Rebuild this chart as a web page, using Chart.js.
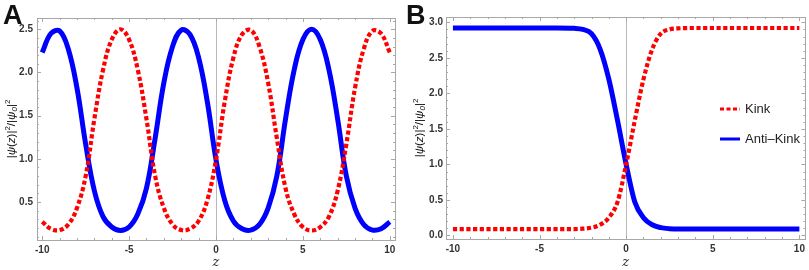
<!DOCTYPE html>
<html>
<head>
<meta charset="utf-8">
<script src="https://cdn.jsdelivr.net/npm/chart.js@4.4.1/dist/chart.umd.min.js"></script>
<style>
  body { margin: 0; background: #fff; }
  #wrap { position: relative; width: 809px; height: 270px; overflow: hidden; }
  canvas { position: absolute; top: 0; }
  #chartA { left: 0; }
  #chartB { left: 405px; }
  .tag { position: absolute; top: 2px; font: bold 27px "Liberation Sans", Arial, sans-serif; line-height: 27px; color: #111; }
</style>
</head>
<body>
<div id="wrap">
  <canvas id="chartA" width="405" height="270"></canvas>
  <canvas id="chartB" width="404" height="270"></canvas>
  <div class="tag" style="left:3px">A</div>
  <div class="tag" style="left:406px">B</div>
</div>
<script>
// パネルA: 周期解 (z = -10 .. 10, 0.5 刻み)
const zA = [-10, -9.5, -9, -8.5, -8, -7.5, -7, -6.5, -6, -5.5, -5, -4.5, -4, -3.5, -3, -2.5, -2, -1.5, -1, -0.5,
            0, 0.5, 1, 1.5, 2, 2.5, 3, 3.5, 4, 4.5, 5, 5.5, 6, 6.5, 7, 7.5, 8, 8.5, 9, 9.5, 10];
const kinkA = [0.27, 0.19, 0.175, 0.24, 0.43, 0.80, 1.46, 2.03, 2.38, 2.50, 2.38, 2.03, 1.46, 0.80, 0.43, 0.24, 0.175, 0.19, 0.28, 0.52,
               0.99, 1.66, 2.17, 2.44, 2.49, 2.30, 1.88, 1.24, 0.66, 0.36, 0.21, 0.17, 0.21, 0.33, 0.63, 1.17, 1.82, 2.27, 2.48, 2.45, 2.23];
const antiKinkA = [2.23, 2.45, 2.48, 2.27, 1.82, 1.17, 0.63, 0.33, 0.21, 0.17, 0.21, 0.36, 0.66, 1.24, 1.88, 2.30, 2.49, 2.44, 2.17, 1.66,
                   0.99, 0.52, 0.28, 0.19, 0.175, 0.24, 0.43, 0.80, 1.46, 2.03, 2.38, 2.50, 2.38, 2.03, 1.46, 0.80, 0.43, 0.24, 0.175, 0.19, 0.27];

// パネルB: キンク / 反キンク
const zB = [-10, -8, -6, -4, -3, -2.5, -2, -1.5, -1, -0.5, 0, 0.5, 1, 1.5, 2, 2.5, 3, 4, 6, 8, 10];
const kinkB = [0.09, 0.09, 0.09, 0.09, 0.09, 0.095, 0.11, 0.15, 0.25, 0.47, 1.00, 1.62, 2.20, 2.62, 2.84, 2.90, 2.915, 2.92, 2.92, 2.92, 2.92];
const antiKinkB = [2.92, 2.92, 2.92, 2.92, 2.915, 2.90, 2.84, 2.62, 2.20, 1.62, 1.00, 0.47, 0.25, 0.15, 0.11, 0.095, 0.09, 0.09, 0.09, 0.09, 0.09];

// 目盛り
const xTicks = [-10, -5, 0, 5, 10];
const yTicksA = [0.5, 1.0, 1.5, 2.0, 2.5];
const yTicksB = [0.0, 0.5, 1.0, 1.5, 2.0, 2.5, 3.0];
const seriesLabels = ['Kink', 'Anti\u2013Kink'];

const RED = '#ff0000';
const BLUE = '#0000ff';
const FRAME = '#a8a8a8';
const TICK_FONT = { family: 'Liberation Sans', size: 10, weight: 'bold' };

const toPoints = (z, v) => z.map((x, i) => ({ x, y: v[i] }));

// 縦軸タイトル |ψ(z)|²/|ψ0|² (回転して描く)
function drawYTitle(ctx, cx, cy) {
    const size = 11.5;
    const runs = [
        { t: '|' }, { t: '\u03C8', it: true }, { t: '(' }, { t: 'z', it: true }, { t: ')|' }, { t: '2', sup: true },
        { t: '/|' }, { t: '\u03C8', it: true }, { t: '0', sub: true, it: true }, { t: '|' }, { t: '2', sup: true }
    ];
    const fontOf = r => `${r.it ? 'italic ' : ''}${r.sup || r.sub ? size * 0.7 : size}px "Liberation Sans"`;
    let total = 0;
    runs.forEach(r => { ctx.font = fontOf(r); r.w = ctx.measureText(r.t).width; total += r.w; });
    ctx.save();
    ctx.translate(cx, cy);
    ctx.rotate(-Math.PI / 2);
    ctx.fillStyle = '#111';
    ctx.textBaseline = 'middle';
    let x = -total / 2;
    runs.forEach(r => {
        ctx.font = fontOf(r);
        const dy = r.sup ? -size * 0.4 : r.sub ? size * 0.25 : 0;
        ctx.fillText(r.t, x, dy);
        x += r.w;
    });
    ctx.restore();
}

// 枠・目盛り・z=0 の縦線・凡例
const framePlugin = {
    id: 'frame',
    beforeDatasetsDraw(chart) {
        const { ctx, chartArea: a, scales: { x } } = chart;
        const x0 = Math.round(x.getPixelForValue(0)) + 0.5;
        ctx.save();
        ctx.strokeStyle = '#b8b8b8';
        ctx.lineWidth = 1;
        ctx.beginPath();
        ctx.moveTo(x0, a.top);
        ctx.lineTo(x0, a.bottom);
        ctx.stroke();
        ctx.restore();
    },
    afterDatasetsDraw(chart, args, opts) {
        const { ctx, chartArea: a, scales: { x, y } } = chart;
        ctx.save();
        ctx.strokeStyle = FRAME;
        ctx.lineWidth = 1;
        ctx.strokeRect(Math.round(a.left) + 0.5, Math.round(a.top) + 0.5,
                       Math.round(a.right - a.left), Math.round(a.bottom - a.top));
        ctx.beginPath();
        for (let i = -10; i <= 10; i++) {
            const px = Math.round(x.getPixelForValue(i)) + 0.5;
            const len = i % 5 === 0 ? 4 : 2;
            ctx.moveTo(px, a.bottom); ctx.lineTo(px, a.bottom - len);
            ctx.moveTo(px, a.top); ctx.lineTo(px, a.top + len);
        }
        for (let k = Math.ceil(y.min * 10); k <= Math.floor(y.max * 10); k++) {
            const py = Math.round(y.getPixelForValue(k / 10)) + 0.5;
            const len = k % 5 === 0 ? 4 : 2;
            ctx.moveTo(a.left, py); ctx.lineTo(a.left + len, py);
            ctx.moveTo(a.right, py); ctx.lineTo(a.right - len, py);
        }
        ctx.stroke();
        ctx.restore();

        drawYTitle(ctx, opts.titleX, (a.top + a.bottom) / 2);

        if (opts.legend) {
            const items = [
                { label: seriesLabels[0], color: RED, dash: [4, 2.5], y: 109 },
                { label: seriesLabels[1], color: BLUE, dash: [], y: 139 }
            ];
            ctx.save();
            items.forEach(it => {
                ctx.strokeStyle = it.color;
                ctx.lineWidth = 3;
                ctx.setLineDash(it.dash);
                ctx.beginPath();
                ctx.moveTo(315, it.y);
                ctx.lineTo(335, it.y);
                ctx.stroke();
                ctx.setLineDash([]);
                ctx.fillStyle = '#222';
                ctx.font = '13px "Liberation Sans"';
                ctx.textBaseline = 'middle';
                ctx.fillText(it.label, 340, it.y);
            });
            ctx.restore();
        }
    }
};

function buildChart(id, p) {
    return new Chart(document.getElementById(id), {
        type: 'line',
        data: {
            datasets: [
                {
                    label: seriesLabels[0], data: toPoints(p.z, p.kink),
                    borderColor: RED, borderWidth: 4.2, borderDash: [4.2, 2.5], borderCapStyle: 'butt',
                    pointRadius: 0, tension: p.tension, cubicInterpolationMode: p.interp, fill: false
                },
                {
                    label: seriesLabels[1], data: toPoints(p.z, p.anti),
                    borderColor: BLUE, borderWidth: 5,
                    pointRadius: 0, tension: p.tension, cubicInterpolationMode: p.interp, fill: false
                }
            ]
        },
        options: {
            responsive: false,
            animation: false,
            events: [],
            layout: { padding: { top: p.top, right: p.right, left: 0, bottom: 0 } },
            plugins: {
                legend: { display: false },
                tooltip: { enabled: false },
                frame: { titleX: p.titleX, legend: p.legend }
            },
            scales: {
                x: {
                    type: 'linear', min: p.xMin, max: p.xMax,
                    afterBuildTicks: s => { s.ticks = xTicks.map(v => ({ value: v })); },
                    afterFit: s => { s.height = p.bottomH; },
                    grid: { display: false, drawTicks: false }, border: { display: false },
                    ticks: { font: TICK_FONT, color: '#333', padding: 4, maxRotation: 0, autoSkip: false, callback: v => String(v) },
                    title: { display: true, text: 'z', color: '#222', padding: { top: 0, bottom: 1 },
                             font: { family: 'DejaVu Serif', style: 'italic', size: 13, lineHeight: 1 } }
                },
                y: {
                    min: p.yMin, max: p.yMax,
                    afterBuildTicks: s => { s.ticks = p.yTicks.map(v => ({ value: v })); },
                    afterFit: s => { s.width = p.leftW; },
                    grid: { display: false, drawTicks: false }, border: { display: false },
                    ticks: { font: TICK_FONT, color: '#333', padding: p.yPad, autoSkip: false, callback: v => v.toFixed(1) }
                }
            }
        },
        plugins: [framePlugin]
    });
}

buildChart('chartA', {
    z: zA, kink: kinkA, anti: antiKinkA, yTicks: yTicksA,
    xMin: -10.3, xMax: 10.3, yMin: 0.06, yMax: 2.63, tension: 0.4, interp: 'default',
    top: 18, right: 10, leftW: 37, bottomH: 30, yPad: 4, titleX: 12, legend: false
});
buildChart('chartB', {
    z: zB, kink: kinkB, anti: antiKinkB, yTicks: yTicksB,
    xMin: -10.4, xMax: 10.35, yMin: -0.05, yMax: 3.075, tension: 0.4, interp: 'monotone',
    top: 17, right: 3.5, leftW: 41, bottomH: 31, yPad: 3, titleX: 15, legend: true
});
</script>
</body>
</html>
